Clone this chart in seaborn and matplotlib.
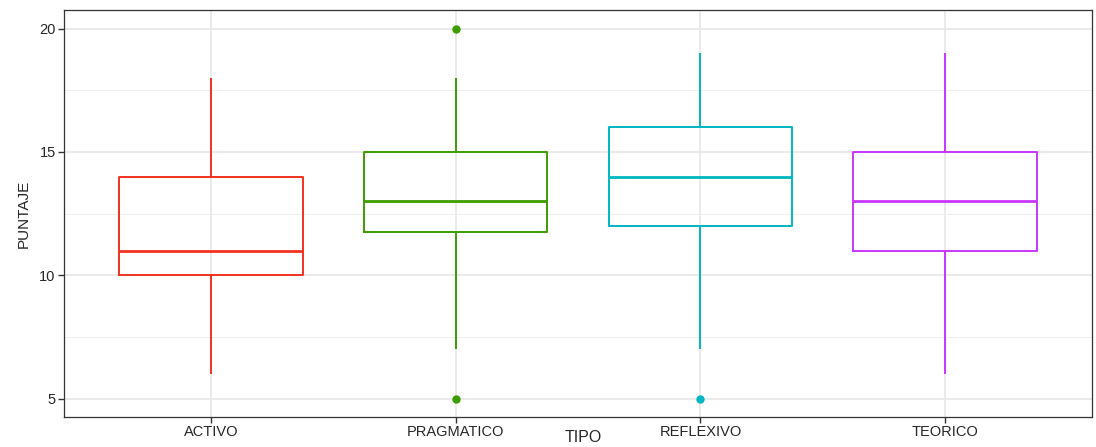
import pandas as pd
import numpy as np
import matplotlib
matplotlib.use("Agg")
import matplotlib.pyplot as plt
import seaborn as sns

# scores per learning style (chosen so the quartiles match the picture)
activo = [6, 10, 11, 14, 18]
pragmatico = [5, 7, 11, 12, 13, 13, 13, 14, 15, 15, 18, 20]
reflexivo = [5, 7, 12, 13, 14, 15, 16, 17, 19]
teorico = [6, 11, 13, 15, 19]

tipos = ["ACTIVO", "PRAGMATICO", "REFLEXIVO", "TEORICO"]
colores = ["#F2311F", "#3C9C00", "#00B5C1", "#C935FF"]

df = pd.DataFrame({
    "TIPO": (["ACTIVO"] * len(activo) + ["PRAGMATICO"] * len(pragmatico)
             + ["REFLEXIVO"] * len(reflexivo) + ["TEORICO"] * len(teorico)),
    "PUNTAJE": activo + pragmatico + reflexivo + teorico,
})

sns.set_style("white")
plt.rcParams["font.family"] = ["Liberation Sans", "DejaVu Sans"]

fig = plt.figure(figsize=(10.96, 4.47), dpi=100)
ax = fig.add_axes([64 / 1096, 30 / 447, 1028 / 1096, 407 / 447])

sns.boxplot(data=df, x="TIPO", y="PUNTAJE", hue="TIPO", order=tipos,
            hue_order=tipos, palette=colores, fill=False, width=0.75,
            whis=1.5, linewidth=1.4, showcaps=False, legend=False, ax=ax,
            medianprops={"linewidth": 2.0},
            flierprops={"marker": "o", "markersize": 5})

# filled outlier dots like ggplot
for ln in ax.lines:
    if ln.get_marker() == "o":
        ln.set_markerfacecolor(ln.get_markeredgecolor())

ax.set_xlim(-0.6, 3.6)
ax.set_ylim(4.25, 20.75)
ax.set_yticks([5, 10, 15, 20])
ax.set_yticks([7.5, 12.5, 17.5], minor=True)

ax.grid(True, which="major", axis="both", color="#E8E8E8", linewidth=1.3)
ax.grid(True, which="minor", axis="y", color="#EFEFEF", linewidth=0.7)
ax.set_axisbelow(True)

for s in ax.spines.values():
    s.set_color("#333333")
    s.set_linewidth(0.9)

ax.tick_params(axis="both", which="major", bottom=True, left=True,
               length=4, width=1.0, color="#333333", labelcolor="#262626",
               labelsize=10.5, pad=2)
ax.tick_params(axis="y", which="minor", length=0)

ax.set_xlabel("TIPO", fontsize=11.5, va="bottom")
ax.xaxis.set_label_coords(0.505, -28 / 407)
ax.set_ylabel("PUNTAJE", fontsize=11, labelpad=6)

fig.savefig("out.png", dpi=100)
